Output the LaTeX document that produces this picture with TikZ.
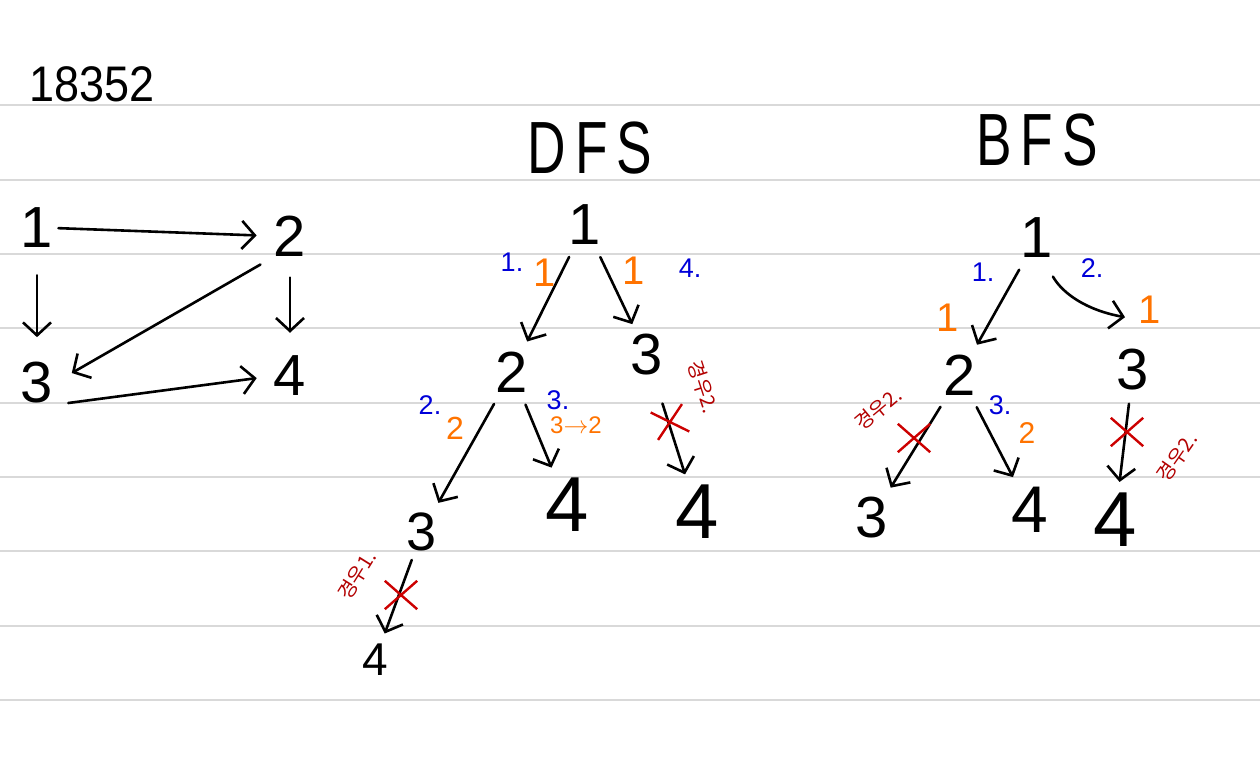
\documentclass[tikz,border=0pt]{standalone}
\usepackage{fontspec}
\setmainfont{Liberation Sans}
\newfontfamily\krfont{Noto Sans CJK KR}
\usetikzlibrary{arrows.meta,shapes.misc}

\begin{document}
\begin{tikzpicture}[x=1pt,y=-1pt,line width=2.6pt,
  num/.style={inner sep=0pt,font=\fontsize{58}{60}\selectfont},
  bignum/.style={inner sep=0pt,font=\fontsize{78}{80}\selectfont},
  edge/.style={line cap=round,-{Straight Barb[length=13pt,width=28pt,line width=2.6pt]},shorten <=12pt,shorten >=10pt},
  ordr/.style={text=blue!85!black,font=\fontsize{27}{28}\selectfont},
  cost/.style={text=orange!90!red,font=\fontsize{40}{42}\selectfont},
  cutmark/.style={cross out,draw=red!80!black,line width=2.4pt,minimum width=30pt,minimum height=26pt,inner sep=0pt},
  casenote/.style={text=red!70!black,inner sep=1pt,font=\krfont\fontsize{20}{21}\selectfont}]
  \useasboundingbox (0,0) rectangle (1260,756);
  % ============ lined paper ============
  \foreach \y in {105,180,254,328,403,477,551,626,700}
    \draw[black!15,line width=2.4pt] (0,\y) -- (1260,\y);
  % ============ problem number ============
  \node[inner sep=0pt,font=\fontsize{50}{52}\selectfont] (prob) at (92,84) {\scalebox{0.9}[1]{18352}};
  % ============ GRAPH (left) ============
  \node[num] (g1) at (37,228) {1};
  \node[num] (g2) at (290,236) {2};
  \node[num] (g3) at (37,383) {3};
  \node[num] (g4) at (290,376) {4};
  \draw[edge,shorten <=4pt,shorten >=16pt] (g1.east) -- (g2.west);
  \draw[edge,shorten <=26pt,shorten >=24pt] (g1.south) -- (g3.north);
  \draw[edge,shorten <=20pt,shorten >=22pt] (g2.south) -- (g4.north);
  \draw[edge,shorten <=14pt,shorten >=20pt] (g2.south west) -- (g3.east);
  \draw[edge,shorten <=14pt,shorten >=16pt] (g3.south east) -- (g4.west);
  % ============ DFS (centre) ============
  \node[inner sep=0pt,font=\fontsize{74}{76}\selectfont] (dfs) at (590,148) {\scalebox{0.72}[1]{D\,F\,S}};
  \node[num] (d1) at (585,225) {1};
  \node[num] (d2) at (512,372) {2};
  \node[num] (d3) at (647,355) {3};
  \node[num,font=\fontsize{54}{56}\selectfont] (d23) at (422,532) {3};
  \node[bignum] (d24) at (567,505) {4};
  \node[bignum] (d34) at (697,512) {4};
  \node[num,font=\fontsize{46}{48}\selectfont] (d234) at (375,660) {4};
  \draw[edge] (d1) -- (d2);
  \draw[edge] (d1) -- (d3);
  \draw[edge] (d2) -- (d23);
  \draw[edge] (d2) -- (d24);
  \draw[edge,shorten <=28pt] (d3) -- (d34);
  \draw[edge,shorten <=8pt] (d23) -- (d234);
  % order / cost
  \node[ordr] (do1) at (512,262) {1.};
  \node[cost] (dc1) at (545,273) {1};
  \node[cost] (dc2) at (634,271) {1};
  \node[ordr] (do2) at (690,268) {4.};
  \node[ordr] (do3) at (430,405) {2.};
  \node[cost,font=\fontsize{32}{34}\selectfont] (dc3) at (455,428) {2};
  \node[ordr] (do4) at (558,400) {3.};
  \node[cost,font=\fontsize{24}{26}\selectfont] (dc4) at (576,425) {3$\to$2};
  % cut edges
  \node[cutmark,rotate=15] (dx1) at (670,422) {};
  \node[casenote,rotate=-72] (dn1) at (703,387) {경우2.};
  \node[cutmark] (dx2) at (401,595) {};
  \node[casenote,rotate=58] (dn2) at (357,575) {경우1.};
  % ============ BFS (right) ============
  \node[inner sep=0pt,font=\fontsize{74}{76}\selectfont] (bfs) at (1037,140) {\scalebox{0.72}[1]{B\,F\,S}};
  \node[num] (b1) at (1037,238) {1};
  \node[num] (b2) at (960,375) {2};
  \node[num] (b3) at (1133,370) {3};
  \node[num] (b23) at (872,518) {3};
  \node[num,font=\fontsize{66}{68}\selectfont] (b24) at (1030,510) {4};
  \node[bignum] (b34) at (1115,520) {4};
  \draw[edge] (b1) -- (b2);
  \draw[edge,shorten <=20pt,shorten >=0pt] ([xshift=6pt]b1.south) to[bend right=25] ([xshift=-8pt,yshift=31pt]b3.north);
  \draw[edge] (b2) -- (b23);
  \draw[edge] (b2) -- (b24);
  \draw[edge] (b3) -- (b34);
  % order / cost
  \node[ordr] (bo1) at (983,272) {1.};
  \node[ordr] (bo2) at (1092,268) {2.};
  \node[cost] (bc1) at (948,318) {1};
  \node[cost] (bc2) at (1150,310) {1};
  \node[ordr] (bo3) at (1000,405) {3.};
  \node[cost,font=\fontsize{30}{32}\selectfont] (bc3) at (1027,433) {2};
  % cut edges
  \node[cutmark] (bx1) at (914,438) {};
  \node[casenote,rotate=40] (bn1) at (878,409) {경우2.};
  \node[cutmark] (bx2) at (1127,432) {};
  \node[casenote,rotate=55] (bn2) at (1177,457) {경우2.};
\end{tikzpicture}
\end{document}
